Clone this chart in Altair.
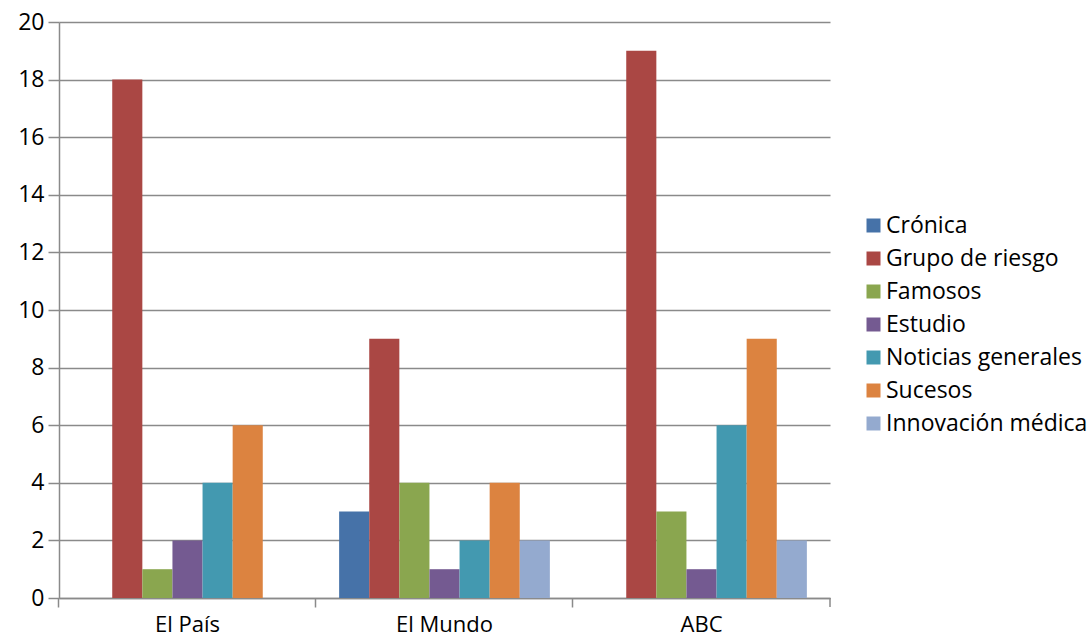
import altair as alt
import pandas as pd

diarios = ["El País", "El Mundo", "ABC"]
series = ["Crónica", "Grupo de riesgo", "Famosos", "Estudio",
          "Noticias generales", "Sucesos", "Innovación médica"]
colores = ["#4672A8", "#AA4744", "#8AA64F", "#745A91", "#4399B0", "#DC8340", "#94AACF"]
valores = {
    "El País":  [0, 18, 1, 2, 4, 6, 0],
    "El Mundo": [3, 9, 4, 1, 2, 4, 2],
    "ABC":      [0, 19, 3, 1, 6, 9, 2],
}
y_ticks = [0, 2, 4, 6, 8, 10, 12, 14, 16, 18, 20]

rows = []
for d in diarios:
    for s, v in zip(series, valores[d]):
        rows.append({"diario": d, "serie": s, "valor": v})
df = pd.DataFrame(rows)

W, H = 771, 576
FONT = "Open Sans"
GRID = "#8A8A8A"

bars = alt.Chart(df).mark_bar().encode(
    x=alt.X("diario:N", sort=diarios, title=None,
            scale=alt.Scale(paddingInner=0.18, paddingOuter=0.09),
            axis=alt.Axis(bandPosition=-0.1098, tickSize=9, tickColor=GRID, tickWidth=1.5,
                          domainColor=GRID, domainWidth=1.5, labelAngle=0,
                          labelFontSize=22, labelColor="black", labelFont=FONT,
                          labelPadding=7, grid=False)),
    xOffset=alt.XOffset("serie:N", sort=series,
                        scale=alt.Scale(paddingInner=0, paddingOuter=0)),
    y=alt.Y("valor:Q", title=None,
            scale=alt.Scale(domain=[0, 20], nice=False),
            axis=alt.Axis(values=y_ticks, tickSize=11, tickColor=GRID, tickWidth=1.5,
                          domainColor=GRID, domainWidth=1.5, gridColor=GRID,
                          gridWidth=1.5, labelFontSize=23, labelColor="black",
                          labelFont=FONT, labelPadding=4)),
    color=alt.Color("serie:N", sort=series,
                    scale=alt.Scale(domain=series, range=colores),
                    legend=alt.Legend(title=None, orient="none", legendX=803, legendY=192,
                                      symbolType="square", symbolSize=196,
                                      symbolStrokeWidth=0, labelFontSize=23,
                                      labelFont=FONT, labelColor="black",
                                      rowPadding=9, labelOffset=1, labelLimit=300)),
)

right_tick = alt.Chart(pd.DataFrame({"t": [0]})).mark_rule(
    color=GRID, strokeWidth=1.5).encode(
    x=alt.value(W), y=alt.value(H), y2=alt.value(H + 9))

chart = alt.layer(bars, right_tick).properties(
    width=W, height=H,
    background="white",
    autosize=alt.AutoSizeParams(type="none"),
    padding={"left": 59, "top": 22, "right": 260, "bottom": 41},
).configure_view(stroke=None)

chart.save("out.html", embed_options={"renderer": "svg", "actions": False})
